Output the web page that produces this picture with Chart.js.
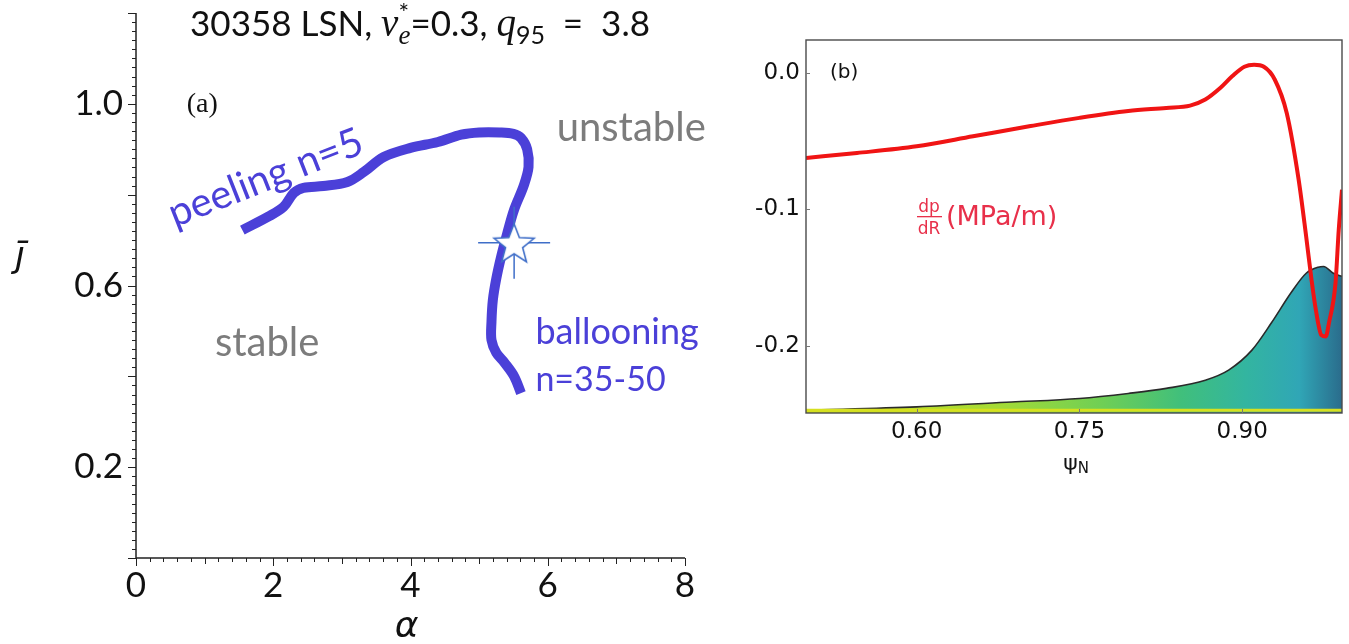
<!DOCTYPE html>
<html>
<head>
<meta charset="utf-8">
<script src="https://cdn.jsdelivr.net/npm/chart.js@4.4.0/dist/chart.umd.min.js"></script>
<style>
  html, body { margin: 0; padding: 0; background: #fff; }
  #wrap { position: relative; width: 1349px; height: 644px; overflow: hidden; }
  #boxA { position: absolute; left: 0; top: 0; width: 720px; height: 644px; }
  #boxB { position: absolute; left: 720px; top: 0; width: 629px; height: 644px; }
</style>
</head>
<body>
<div id="wrap">
  <div id="boxA"><canvas id="chartA"></canvas></div>
  <div id="boxB"><canvas id="chartB"></canvas></div>
</div>
<script>
// ---- (a) peeling-ballooning boundary in (alpha, j) ----
const boundaryAlpha = [1.55, 1.92, 2.15, 2.30, 2.44, 2.73, 3.08, 3.32, 3.61, 4.00, 4.40, 4.74, 5.00, 5.30, 5.50, 5.61, 5.70, 5.72, 5.65, 5.51, 5.41, 5.32, 5.25, 5.20, 5.18, 5.18, 5.25, 5.37, 5.51, 5.61];
const boundaryJ     = [0.722, 0.751, 0.773, 0.804, 0.815, 0.819, 0.828, 0.850, 0.883, 0.903, 0.916, 0.932, 0.937, 0.937, 0.934, 0.925, 0.900, 0.861, 0.820, 0.767, 0.715, 0.663, 0.615, 0.568, 0.520, 0.480, 0.452, 0.430, 0.400, 0.363];
const operatingPoint = [5.51, 0.694];
const alphaTicks = [0, 2, 4, 6, 8];
const jTicks = [0.2, 0.6, 1.0];

// ---- (b) pressure gradient and mode envelope vs psi_N ----
const psiProfile = [0.498, 0.545, 0.60, 0.652, 0.705, 0.75, 0.795, 0.83, 0.852, 0.866, 0.880, 0.891, 0.902, 0.911, 0.920, 0.930, 0.941, 0.952, 0.959, 0.964, 0.968, 0.973, 0.977, 0.980, 0.986, 0.989, 0.992];
const dpdR       = [-0.0623, -0.0587, -0.0538, -0.0465, -0.039, -0.033, -0.028, -0.0257, -0.024, -0.0196, -0.011, -0.0024, 0.0044, 0.0059, 0.0044, -0.0049, -0.0293, -0.078, -0.12, -0.152, -0.174, -0.192, -0.193, -0.183, -0.154, -0.115, -0.0856];
const psiEnvelope = [0.498, 0.60, 0.6875, 0.75, 0.795, 0.83, 0.866, 0.8875, 0.909, 0.927, 0.945, 0.959, 0.970, 0.975, 0.984, 0.992];
const envelope    = [-0.247, -0.2445, -0.241, -0.2384, -0.2347, -0.231, -0.225, -0.2176, -0.203, -0.183, -0.161, -0.1467, -0.1423, -0.1418, -0.1467, -0.149];
const baseLevel = -0.247;
const psiTicks = [0.60, 0.75, 0.90];
const dpTicks = [0.0, -0.1, -0.2];

const BLUE = '#4b40d8';
const GREY = '#7c7c7c';

function toXY(xs, ys) {
  return xs.map((x, i) => ({ x: x, y: ys[i] }));
}

// tick labels may hang past the plot edges; keep the layout padding as given
function noEdgePadding(s) {
  s.paddingTop = 0; s.paddingBottom = 0;
  s.paddingLeft = 0; s.paddingRight = 0;
}

// white five-point star used as a point style
function makeStar(r, ri, stroke) {
  const c = document.createElement('canvas');
  const s = Math.ceil(r * 2 + 4);
  c.width = s; c.height = s;
  const g = c.getContext('2d');
  g.beginPath();
  for (let k = 0; k < 10; k++) {
    const rad = k % 2 ? ri : r;
    const a = -Math.PI / 2 + k * Math.PI / 5;
    const px = s / 2 + rad * Math.cos(a);
    const py = s / 2 + 2 + rad * Math.sin(a);
    if (k === 0) g.moveTo(px, py); else g.lineTo(px, py);
  }
  g.closePath();
  g.fillStyle = '#fff';
  g.fill();
  g.strokeStyle = stroke;
  g.lineWidth = 1.6;
  g.stroke();
  return c;
}

// draws a row of text pieces centred on cx; a nested array stacks sup/sub
function drawRuns(ctx, parts, cx, base, color) {
  ctx.save();
  ctx.fillStyle = color;
  ctx.textBaseline = 'alphabetic';
  ctx.textAlign = 'left';
  const widthOf = (p) => {
    if (Array.isArray(p[0])) {
      return Math.max(...p.map(q => { ctx.font = q[1]; return ctx.measureText(q[0]).width; }));
    }
    ctx.font = p[1];
    return ctx.measureText(p[0]).width;
  };
  const total = parts.reduce((s, p) => s + widthOf(p), 0);
  let x = cx - total / 2;
  parts.forEach(p => {
    const w = widthOf(p);
    const items = Array.isArray(p[0]) ? p : [p];
    items.forEach(q => {
      ctx.font = q[1];
      ctx.fillText(q[0], x, base + q[2]);
    });
    x += w;
  });
  ctx.restore();
}

const decorA = {
  id: 'decorA',
  beforeDatasetsDraw(chart) {
    const { ctx, chartArea: a, scales: { x, y } } = chart;
    ctx.save();
    ctx.strokeStyle = '#222';
    ctx.lineWidth = 1.5;
    ctx.beginPath();
    ctx.moveTo(a.left, a.top);
    ctx.lineTo(a.left, a.bottom);
    ctx.lineTo(a.right, a.bottom);
    ctx.stroke();
    ctx.lineWidth = 1;
    ctx.beginPath();
    for (let i = 0; i <= 40; i++) {
      const px = Math.round(x.getPixelForValue(i * 0.2)) + 0.5;
      const len = i % 10 === 0 ? 8 : (i % 5 === 0 ? 6 : 4);
      ctx.moveTo(px, a.bottom);
      ctx.lineTo(px, a.bottom + len);
    }
    for (let i = 0; i <= 60; i++) {
      const py = Math.round(y.getPixelForValue(i * 0.02)) + 0.5;
      const len = i % 10 === 0 ? 8 : 4;
      ctx.moveTo(a.left, py);
      ctx.lineTo(a.left - len, py);
    }
    ctx.stroke();
    ctx.restore();
  },
  afterDraw(chart) {
    const { ctx, scales: { x, y } } = chart;
    ctx.save();
    ctx.textBaseline = 'middle';

    ctx.fillStyle = BLUE;
    ctx.font = '40px Lato';
    ctx.save();
    ctx.translate(x.getPixelForValue(1.89), y.getPixelForValue(0.837));
    ctx.rotate(-21.5 * Math.PI / 180);
    ctx.textAlign = 'center';
    ctx.fillText('peeling n=5', 0, 0);
    ctx.restore();

    ctx.textAlign = 'left';
    ctx.font = '36px Lato';
    ctx.fillText('ballooning', x.getPixelForValue(5.82), y.getPixelForValue(0.496));
    ctx.font = '34px Lato';
    ctx.fillText('n=35-50', x.getPixelForValue(5.82), y.getPixelForValue(0.392));

    ctx.fillStyle = GREY;
    ctx.font = '40px Lato';
    ctx.fillText('unstable', x.getPixelForValue(6.13), y.getPixelForValue(0.947));
    ctx.fillText('stable', x.getPixelForValue(1.15), y.getPixelForValue(0.474));

    ctx.fillStyle = '#111';
    ctx.font = '28px "Liberation Serif"';
    ctx.fillText('(a)', x.getPixelForValue(0.74), y.getPixelForValue(0.998));

    // axis titles
    ctx.font = 'italic 36px "DejaVu Sans"';
    ctx.textAlign = 'center';
    ctx.fillText('\u03b1', (x.left + x.right) / 2 - 4, 628);
    ctx.fillText('j\u0304', 20, 258);
    ctx.restore();

    drawRuns(ctx, [
      ['30358 LSN, ', '35px Lato', 0],
      ['\u03bd', 'italic 39px "Liberation Serif"', 0],
      [['*', '25px Lato', -14], ['e', 'italic 27px "Liberation Serif"', 8]],
      ['=0.3, ', '35px Lato', 0],
      ['q', 'italic 39px "Liberation Serif"', 0],
      ['95', '25px Lato', 8],
      ['  =  3.8', '35px Lato', 0]
    ], 420, 36, '#111');
  }
};

const decorB = {
  id: 'decorB',
  afterDraw(chart) {
    const { ctx, chartArea: a, scales: { x, y } } = chart;
    ctx.save();
    ctx.strokeStyle = '#4a4a4a';
    ctx.lineWidth = 1.4;
    ctx.strokeRect(a.left, a.top, a.right - a.left, a.bottom - a.top);
    ctx.lineWidth = 1;
    ctx.strokeStyle = '#777';
    ctx.beginPath();
    psiTicks.forEach(v => {
      const px = Math.round(x.getPixelForValue(v)) + 0.5;
      ctx.moveTo(px, a.bottom);
      ctx.lineTo(px, a.bottom - 4);
    });
    dpTicks.forEach(v => {
      const py = Math.round(y.getPixelForValue(v)) + 0.5;
      ctx.moveTo(a.left, py);
      ctx.lineTo(a.left + 4, py);
    });
    ctx.stroke();

    ctx.fillStyle = '#111';
    ctx.textBaseline = 'middle';
    ctx.font = '20px "DejaVu Sans"';
    ctx.fillText('(b)', a.left + 24, 73);

    // d p / d R label
    const lx = 197;
    ctx.fillStyle = '#e8304a';
    ctx.font = '17px "DejaVu Sans"';
    ctx.textAlign = 'center';
    ctx.textBaseline = 'alphabetic';
    ctx.fillText('dp', lx + 12, 212);
    ctx.fillText('dR', lx + 12, 234);
    ctx.fillRect(lx, 216, 25, 1.3);
    ctx.textAlign = 'left';
    ctx.textBaseline = 'middle';
    ctx.font = '27px "DejaVu Sans"';
    ctx.fillText('(MPa/m)', lx + 29, 218);

    drawRuns(ctx, [
      ['\u03c8', '22px "DejaVu Sans"', 0],
      ['N', '15px "DejaVu Sans"', 3]
    ], (a.left + a.right) / 2 + 2, 470, '#111');
    ctx.restore();
  }
};

const chartA = new Chart(document.getElementById('chartA'), {
  type: 'scatter',
  data: {
    datasets: [
      {
        data: [{ x: operatingPoint[0], y: operatingPoint[1] }],
        pointStyle: makeStar(21, 9, '#3f6ec8'),
        order: 0
      },
      {
        data: [{ x: operatingPoint[0], y: operatingPoint[1] }],
        pointStyle: 'cross',
        pointRadius: 36,
        borderColor: '#3f6ec8',
        borderWidth: 1.5,
        order: 1
      },
      {
        data: toXY(boundaryAlpha, boundaryJ),
        showLine: true,
        borderColor: BLUE,
        borderWidth: 10,
        borderCapStyle: 'butt',
        borderJoinStyle: 'round',
        tension: 0.35,
        pointRadius: 0,
        order: 2
      }
    ]
  },
  options: {
    responsive: true,
    maintainAspectRatio: false,
    animation: false,
    layout: { autoPadding: false, padding: { top: 13, right: 35, bottom: 0, left: 0 } },
    plugins: { legend: { display: false }, tooltip: { enabled: false } },
    scales: {
      x: {
        type: 'linear', min: 0, max: 8,
        afterBuildTicks: s => { s.ticks = alphaTicks.map(v => ({ value: v })); },
        afterFit: s => { s.height = 86; noEdgePadding(s); },
        grid: { display: false, drawTicks: false },
        border: { display: false },
        ticks: { font: { family: 'Lato', size: 35 }, color: '#111', padding: 7, maxRotation: 0, autoSkip: false, callback: v => String(v) }
      },
      y: {
        type: 'linear', min: 0, max: 1.2,
        afterBuildTicks: s => { s.ticks = jTicks.map(v => ({ value: v })); },
        afterFit: s => { s.width = 136; noEdgePadding(s); },
        grid: { display: false, drawTicks: false },
        border: { display: false },
        ticks: { font: { family: 'Lato', size: 35 }, color: '#111', padding: 13, autoSkip: false, callback: v => v.toFixed(1) }
      }
    }
  },
  plugins: [decorA]
});

const chartB = new Chart(document.getElementById('chartB'), {
  type: 'scatter',
  data: {
    datasets: [
      {
        data: toXY(psiProfile, dpdR),
        showLine: true,
        borderColor: '#f01414',
        borderWidth: 4,
        cubicInterpolationMode: 'monotone',
        pointRadius: 0,
        order: 0
      },
      {
        data: toXY([psiEnvelope[0], psiEnvelope[psiEnvelope.length - 1]], [baseLevel, baseLevel]),
        showLine: true,
        borderColor: '#d6e020',
        borderWidth: 3,
        pointRadius: 0,
        order: 1
      },
      {
        data: toXY(psiEnvelope, envelope),
        showLine: true,
        borderColor: '#2a2a2a',
        borderWidth: 1.6,
        cubicInterpolationMode: 'monotone',
        pointRadius: 0,
        fill: 'start',
        backgroundColor: (c) => {
          const ch = c.chart;
          if (!ch.chartArea) return 'rgba(0,0,0,0)';
          const xs = ch.scales.x;
          const g = ch.ctx.createLinearGradient(xs.getPixelForValue(0.5), 0, xs.getPixelForValue(0.992), 0);
          g.addColorStop(0.0, '#cfe01f');
          g.addColorStop(0.35, '#a6db35');
          g.addColorStop(0.55, '#6fcf55');
          g.addColorStop(0.70, '#40bf7c');
          g.addColorStop(0.82, '#33b5a0');
          g.addColorStop(0.92, '#30a6b6');
          g.addColorStop(1.0, '#2a6c8c');
          return g;
        },
        order: 2
      }
    ]
  },
  options: {
    responsive: true,
    maintainAspectRatio: false,
    animation: false,
    layout: { autoPadding: false, padding: { top: 40, right: 7, bottom: 191, left: 0 } },
    plugins: { legend: { display: false }, tooltip: { enabled: false } },
    scales: {
      x: {
        type: 'linear', min: 0.498, max: 0.992,
        afterBuildTicks: s => { s.ticks = psiTicks.map(v => ({ value: v })); },
        afterFit: s => { s.height = 40; noEdgePadding(s); },
        grid: { display: false, drawTicks: false },
        border: { display: false },
        ticks: { font: { family: 'DejaVu Sans', size: 23 }, color: '#111', padding: 5, maxRotation: 0, autoSkip: false, callback: v => v.toFixed(2) }
      },
      y: {
        type: 'linear', min: -0.249, max: 0.024,
        afterBuildTicks: s => { s.ticks = dpTicks.map(v => ({ value: v })); },
        afterFit: s => { s.width = 86; noEdgePadding(s); },
        grid: { display: false, drawTicks: false },
        border: { display: false },
        ticks: { font: { family: 'DejaVu Sans', size: 23 }, color: '#111', padding: 6, autoSkip: false, callback: v => (Math.abs(v) < 1e-9 ? 0 : v).toFixed(1) }
      }
    }
  },
  plugins: [decorB]
});
</script>
</body>
</html>
